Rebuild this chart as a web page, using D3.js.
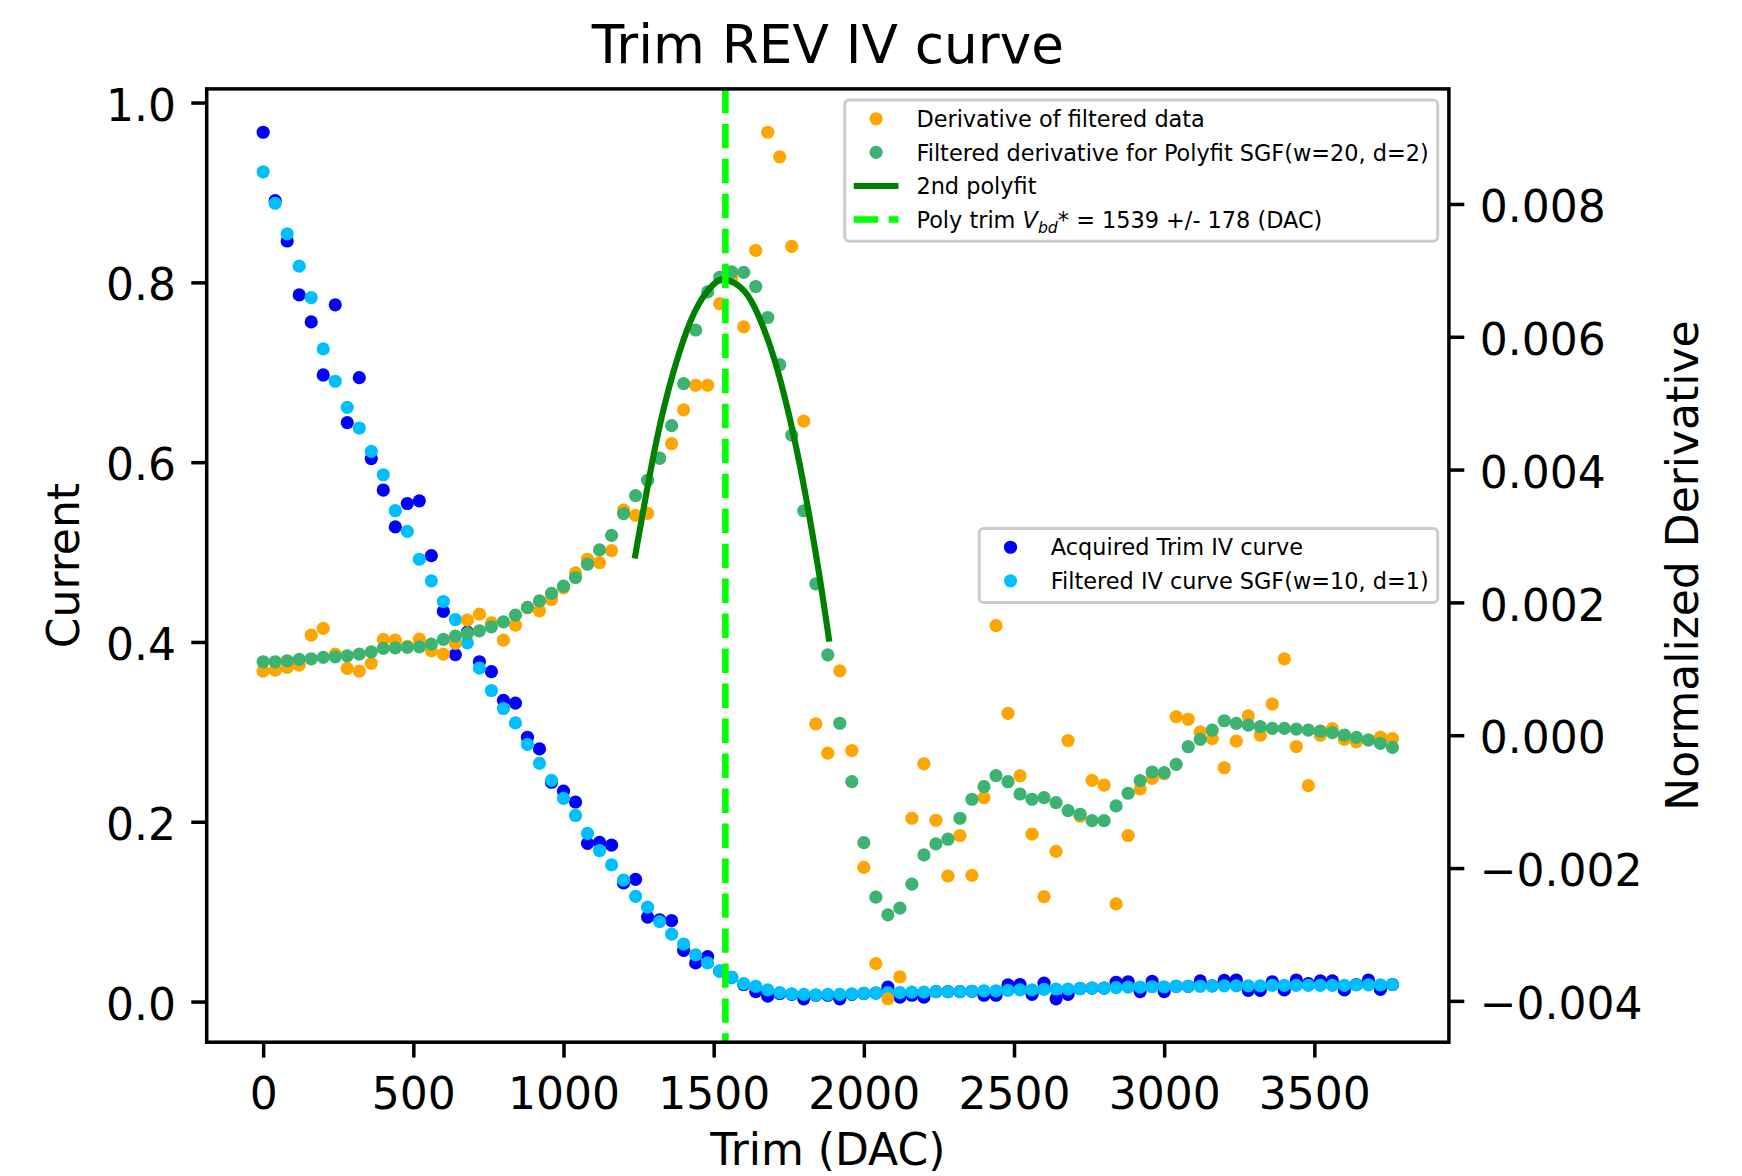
<!DOCTYPE html>
<html>
<head>
<meta charset="utf-8">
<script src="https://cdn.jsdelivr.net/npm/d3@7"></script>
<style>
  body { margin: 0; background: #fff; }
  text { font-family: "DejaVu Sans", sans-serif; fill: #000; }
</style>
</head>
<body>
<div class="fig"></div>
<script>

// trim DAC steps (x)
var trim = [0, 40, 80, 120, 160, 200, 240, 280, 320, 360,
  400, 440, 480, 520, 560, 600, 640, 680, 720, 760,
  800, 840, 880, 920, 960, 1000, 1040, 1080, 1120, 1160,
  1200, 1240, 1280, 1320, 1360, 1400, 1440, 1480, 1520, 1560,
  1600, 1640, 1680, 1720, 1760, 1800, 1840, 1880, 1920, 1960,
  2000, 2040, 2080, 2120, 2160, 2200, 2240, 2280, 2320, 2360,
  2400, 2440, 2480, 2520, 2560, 2600, 2640, 2680, 2720, 2760,
  2800, 2840, 2880, 2920, 2960, 3000, 3040, 3080, 3120, 3160,
  3200, 3240, 3280, 3320, 3360, 3400, 3440, 3480, 3520, 3560,
  3600, 3640, 3680, 3720, 3760];

// left axis: current
var acquired = [0.967, 0.891, 0.846, 0.786, 0.756, 0.697, 0.775, 0.644, 0.694, 0.604,
  0.569, 0.528, 0.554, 0.557, 0.496, 0.434, 0.386, 0.411, 0.378, 0.367,
  0.335, 0.332, 0.294, 0.281, 0.244, 0.234, 0.222, 0.176, 0.177, 0.174,
  0.132, 0.136, 0.094, 0.091, 0.090, 0.057, 0.043, 0.050, 0.034, 0.027,
  0.019, 0.011, 0.006, 0.009, 0.008, 0.003, 0.007, 0.007, 0.003, 0.008,
  0.009, 0.0095, 0.016, 0.005, 0.007, 0.005, 0.011, 0.011, 0.011, 0.0115,
  0.007, 0.007, 0.0185, 0.019, 0.008, 0.0205, 0.003, 0.008, 0.0145, 0.015,
  0.015, 0.0215, 0.022, 0.011, 0.0225, 0.011, 0.017, 0.017, 0.023, 0.0175,
  0.0235, 0.024, 0.0125, 0.0125, 0.022, 0.013, 0.024, 0.020, 0.023, 0.023,
  0.013, 0.019, 0.024, 0.0135, 0.019];

var filteredIV = [0.923, 0.888, 0.854, 0.818, 0.783, 0.726, 0.690, 0.661, 0.638, 0.612,
  0.586, 0.546, 0.523, 0.492, 0.468, 0.445, 0.425, 0.399, 0.371, 0.346,
  0.326, 0.310, 0.286, 0.265, 0.246, 0.226, 0.207, 0.187, 0.168, 0.152,
  0.135, 0.117, 0.105, 0.089, 0.075, 0.064, 0.052, 0.043, 0.034, 0.027,
  0.020, 0.017, 0.013, 0.010, 0.0085, 0.008, 0.0075, 0.008, 0.008, 0.0085,
  0.009, 0.0095, 0.010, 0.010, 0.0105, 0.0105, 0.011, 0.011, 0.011, 0.0115,
  0.012, 0.012, 0.0125, 0.013, 0.013, 0.0135, 0.014, 0.014, 0.0145, 0.015,
  0.015, 0.0155, 0.016, 0.016, 0.0165, 0.0165, 0.017, 0.017, 0.017, 0.0175,
  0.0175, 0.0175, 0.0175, 0.0175, 0.018, 0.018, 0.018, 0.018, 0.018, 0.018,
  0.018, 0.0185, 0.0185, 0.0185, 0.019];

// right axis: normalized derivative
var derivative = [0.000966, 0.000981, 0.001021, 0.001056, 0.001507, 0.001608, 0.001221, 0.001006, 0.000966, 0.001082,
  0.001443, 0.001432, 0.00134, 0.001447, 0.001271, 0.001221, 0.001383, 0.001733, 0.001823, 0.001692,
  0.001432, 0.001658, 0.00192, 0.001873, 0.002044, 0.00222, 0.002445, 0.00265, 0.0026, 0.00278,
  0.00339, 0.00331, 0.00334, 0.00417, 0.00439, 0.0049, 0.00527, 0.00527, 0.0065, 0.00688,
  0.00615, 0.0073, 0.00908, 0.00871, 0.00736, 0.00473, 0.00017, -0.00027, 0.00097, -0.00023,
  -0.00199, -0.00344, -0.00397, -0.00364, -0.00125, -0.00043, -0.00128, -0.00212, -0.00151, -0.00211,
  -0.00094, 0.00165, 0.00033, -0.00061, -0.00149, -0.00243, -0.00175, -0.00008, -0.00122, -0.00068,
  -0.00075, -0.00254, -0.00151, -0.00081, -0.00065, -0.00058, 0.00028, 0.00024, 0.00005, -0.00005,
  -0.00049, -0.00009, 0.00029, 0.0, 0.00047, 0.00115, -0.00017, -0.00076, 0.0, 0.0001,
  -0.00006, -0.0001, -0.00007, -0.00003, -0.00005];

var filteredDeriv = [0.001106, 0.001106, 0.001121, 0.001141, 0.001151, 0.001172, 0.001181, 0.001196, 0.001221, 0.001256,
  0.001307, 0.001316, 0.001322, 0.001331, 0.001372, 0.001443, 0.001492, 0.001533, 0.001572, 0.001632,
  0.001707, 0.001808, 0.001924, 0.002023, 0.002135, 0.002244, 0.002375, 0.002575, 0.002791, 0.00301,
  0.003338, 0.003609, 0.003839, 0.004173, 0.004662, 0.005295, 0.006102, 0.006676, 0.006896, 0.006978,
  0.00697, 0.006757, 0.00629, 0.00558, 0.00452, 0.00338, 0.00228, 0.00121, 0.00018, -0.000699,
  -0.001617, -0.002439, -0.002705, -0.002604, -0.002243, -0.001802, -0.001637, -0.001566, -0.00125, -0.000964,
  -0.000775, -0.000609, -0.0007, -0.000885, -0.000964, -0.00094, -0.001015, -0.001136, -0.00119, -0.001286,
  -0.001286, -0.001065, -0.000874, -0.000684, -0.000554, -0.000564, -0.000438, -0.000173, -0.000062, 0.000078,
  0.000218, 0.000179, 0.000153, 0.000128, 0.000104, 0.000104, 0.000093, 0.000078, 0.000063, 0.000038,
  0.000003, -0.000032, -0.000072, -0.000122, -0.000182];

// 2nd order polyfit
var polyTrim = [1237, 1300, 1350, 1400, 1450, 1500, 1540, 1600, 1650, 1700, 1750, 1800, 1850, 1885];
var polyVal = [0.00266, 0.00422, 0.00521, 0.00596, 0.00649, 0.00679, 0.00686, 0.00670, 0.00631, 0.00569, 0.00484, 0.00376, 0.00246, 0.00141];

var vbdTrim = 1539;

var xTicks = [0, 500, 1000, 1500, 2000, 2500, 3000, 3500];
var leftTicks = [0.0, 0.2, 0.4, 0.6, 0.8, 1.0];
var rightTicks = [-0.004, -0.002, 0.000, 0.002, 0.004, 0.006, 0.008];


var W = 1742, H = 1176;
var frame = {left: 206.7, right: 1448.9, top: 88.9, bottom: 1042.2};
var pt = 4.4;           // px per point
var fs = 44;            // tick / label font size
var legendFs = 22.4;
var dotR = 6.6;

// matplotlib style 5% margins
function padded(vals) {
  var ext = d3.extent(vals);
  var p = (ext[1] - ext[0]) * 0.05;
  return [ext[0] - p, ext[1] + p];
}

var x = d3.scaleLinear()
  .domain(padded(trim))
  .range([frame.left, frame.right]);

var yL = d3.scaleLinear()
  .domain(padded(acquired.concat(filteredIV)))
  .range([frame.bottom, frame.top]);

var yR = d3.scaleLinear()
  .domain(padded(derivative.concat(filteredDeriv).concat(polyVal)))
  .range([frame.bottom, frame.top]);

var svg = d3.select(".fig").append("svg")
  .attr("width", W)
  .attr("height", H);

svg.append("rect").attr("width", W).attr("height", H).attr("fill", "white");

function dots(vals, scale, color) {
  svg.append("g")
    .selectAll("circle")
    .data(vals)
    .enter()
    .append("circle")
    .attr("cx", (d, i) => x(trim[i]))
    .attr("cy", d => scale(d))
    .attr("r", dotR)
    .attr("fill", color);
}

// ax1
dots(acquired, yL, "#0000ff");
dots(filteredIV, yL, "#00bfff");

// ax2
dots(derivative, yR, "#ffa500");
dots(filteredDeriv, yR, "#3cb371");

var polyLine = d3.line()
  .x((d, i) => x(polyTrim[i]))
  .y(d => yR(d))
  .curve(d3.curveNatural);

svg.append("path")
  .datum(polyVal)
  .attr("d", polyLine)
  .attr("fill", "none")
  .attr("stroke", "#008000")
  .attr("stroke-width", 1.4 * pt);

svg.append("line")
  .attr("x1", x(vbdTrim)).attr("x2", x(vbdTrim))
  .attr("y1", frame.top).attr("y2", frame.bottom)
  .attr("stroke", "#00ff00")
  .attr("stroke-width", 1.5 * pt)
  .attr("stroke-dasharray", (3.7 * 1.5 * pt) + "," + (1.6 * 1.5 * pt));

// axes
var xAxis = svg.append("g")
  .attr("transform", "translate(0," + frame.bottom + ")")
  .call(d3.axisBottom(x).tickValues(xTicks).tickFormat(d3.format("d"))
    .tickSize(3.5 * pt).tickPadding(3.5 * pt).tickSizeOuter(0));

var lAxis = svg.append("g")
  .attr("transform", "translate(" + frame.left + ",0)")
  .call(d3.axisLeft(yL).tickValues(leftTicks).tickFormat(d3.format(".1f"))
    .tickSize(3.5 * pt).tickPadding(3.5 * pt).tickSizeOuter(0));

var rAxis = svg.append("g")
  .attr("transform", "translate(" + frame.right + ",0)")
  .call(d3.axisRight(yR).tickValues(rightTicks).tickFormat(d3.format(".3f"))
    .tickSize(3.5 * pt).tickPadding(3.5 * pt).tickSizeOuter(0));

[xAxis, lAxis, rAxis].forEach(function(a) {
  a.select(".domain").remove();
  a.selectAll("line").attr("stroke", "#000").attr("stroke-width", 0.8 * pt);
  a.selectAll("text")
    .style("font-family", "DejaVu Sans")
    .style("font-size", fs + "px")
    .attr("fill", "#000");
});
xAxis.selectAll("text").attr("dy", "0.82em");
lAxis.selectAll("text").attr("dy", "0.40em");
rAxis.selectAll("text").attr("dy", "0.40em");

svg.append("rect")
  .attr("x", frame.left).attr("y", frame.top)
  .attr("width", frame.right - frame.left)
  .attr("height", frame.bottom - frame.top)
  .attr("fill", "none")
  .attr("stroke", "#000")
  .attr("stroke-width", 0.8 * pt);

// titles and labels
var cx = (frame.left + frame.right) / 2;
var cy = (frame.top + frame.bottom) / 2;

svg.append("text")
  .attr("x", cx).attr("y", 62.5)
  .attr("text-anchor", "middle")
  .style("font-size", (fs * 1.21) + "px")
  .text("Trim REV IV curve");

svg.append("text")
  .attr("x", cx).attr("y", 1165)
  .attr("text-anchor", "middle")
  .style("font-size", fs + "px")
  .text("Trim (DAC)");

svg.append("text")
  .attr("transform", "translate(79," + cy + ") rotate(-90)")
  .attr("text-anchor", "middle")
  .style("font-size", fs + "px")
  .text("Current");

svg.append("text")
  .attr("transform", "translate(1698," + cy + ") rotate(-90)")
  .attr("text-anchor", "middle")
  .style("font-size", fs + "px")
  .text("Normalized Derivative");


// legends, matplotlib metrics in font-size units
function legend(items, right, top) {
  var pad = 0.4 * legendFs, handleLen = 2 * legendFs, textPad = 0.8 * legendFs;
  var rowH = legendFs, gap = 0.5 * legendFs;
  var g = svg.append("g");
  var box = g.append("rect");
  var rows = g.selectAll("g.row")
    .data(items)
    .enter()
    .append("g")
    .attr("class", "row");

  var maxW = 0;
  rows.each(function(d, i) {
    var row = d3.select(this);
    var yc = top + pad + rowH / 2 + i * (rowH + gap);
    d.yc = yc;
    var t = row.append("text")
      .attr("y", yc)
      .attr("dy", "0.30em")
      .style("font-size", legendFs + "px")
      .attr("fill", "#111");
    d.label(t);
    maxW = Math.max(maxW, t.node().getComputedTextLength());
  });

  var width = pad + handleLen + textPad + maxW + pad;
  var left = right - width;
  var height = pad * 2 + items.length * rowH + (items.length - 1) * gap;

  box.attr("x", left).attr("y", top)
    .attr("width", width).attr("height", height)
    .attr("rx", 0.2 * legendFs)
    .attr("fill", "white").attr("fill-opacity", 0.8)
    .attr("stroke", "#cccccc").attr("stroke-width", 3);

  rows.each(function(d) {
    var row = d3.select(this);
    var hx = left + pad;
    row.select("text").attr("x", hx + handleLen + textPad);
    if (d.kind == "dot") {
      row.append("circle")
        .attr("cx", hx + handleLen / 2).attr("cy", d.yc - 1.5)
        .attr("r", dotR).attr("fill", d.color);
    } else {
      row.append("line")
        .attr("x1", hx).attr("x2", hx + handleLen)
        .attr("y1", d.yc - 1.5).attr("y2", d.yc - 1.5)
        .attr("stroke", d.color)
        .attr("stroke-width", d.width)
        .attr("stroke-dasharray", d.dash || null);
    }
  });
  return height;
}

function plain(s) { return t => t.text(s); }

legend([
  {kind: "dot", color: "#ffa500", label: plain("Derivative of filtered data")},
  {kind: "dot", color: "#3cb371", label: plain("Filtered derivative for Polyfit SGF(w=20, d=2)")},
  {kind: "line", color: "#008000", width: 1.4 * pt, label: plain("2nd polyfit")},
  {kind: "line", color: "#00ff00", width: 1.5 * pt,
    dash: (3.7 * 1.5 * pt) + "," + (1.6 * 1.5 * pt),
    label: function(t) {
      t.append("tspan").text("Poly trim ");
      t.append("tspan").style("font-style", "italic").text("V");
      t.append("tspan").style("font-style", "italic").style("font-size", "15.7px")
        .attr("dy", 5).text("bd");
      t.append("tspan").attr("dy", -5).text("* = 1539 +/- 178 (DAC)");
    }}
], frame.right - 0.5 * legendFs, frame.top + 0.5 * legendFs);

// lower legend sits at center right of ax1
var lowH = legendFs * 0.8 + 2 * legendFs + 0.5 * legendFs;
legend([
  {kind: "dot", color: "#0000ff", label: plain("Acquired Trim IV curve")},
  {kind: "dot", color: "#00bfff", label: plain("Filtered IV curve SGF(w=10, d=1)")}
], frame.right - 0.5 * legendFs, cy - lowH / 2);

</script>
</body>
</html>
